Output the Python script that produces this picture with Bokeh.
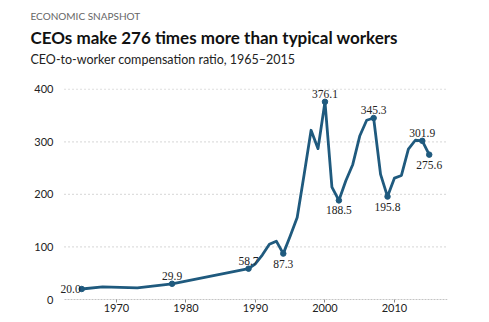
from bokeh.plotting import figure
from bokeh.models import Title, FixedTicker, Range1d, ColumnDataSource, LabelSet
from bokeh.embed import file_html
from bokeh.resources import INLINE

years = [1965, 1968, 1973, 1978, 1989, 1990, 1991, 1992, 1993, 1994, 1995, 1996, 1997,
         1998, 1999, 2000, 2001, 2002, 2003, 2004, 2005, 2006, 2007, 2008, 2009, 2010,
         2011, 2012, 2013, 2014, 2015]
ratio = [20.0, 24.0, 22.3, 29.9, 58.7, 68.0, 85.0, 105.0, 111.0, 87.3, 121.0, 156.0, 238.0,
         322.0, 287.0, 376.1, 214.0, 188.5, 226.0, 257.0, 311.0, 341.0, 345.3, 238.0, 195.8,
         231.0, 236.0, 286.0, 303.0, 301.9, 275.6]

# labelled points
lab_years_above = [1978, 1989, 2000, 2007, 2014]
lab_vals_above = [29.9, 58.7, 376.1, 345.3, 301.9]
lab_years_below = [1994, 2002, 2009, 2015]
lab_vals_below = [87.3, 188.5, 195.8, 275.6]
lab_years_left = [1965]
lab_vals_left = [20.0]

y_ticks = [0, 100, 200, 300, 400]
x_ticks = [1970, 1980, 1990, 2000, 2010]
grid_x_start, grid_x_end = 1962.52, 2017.63

kicker = "ECONOMIC SNAPSHOT"
title = "CEOs make 276 times more than typical workers"
subtitle = "CEO-to-worker compensation ratio, 1965\u20132015"

LINE = "#1f5a7e"
FONT = "Lato"

p = figure(width=489, height=322, output_backend="svg", toolbar_location=None,
           x_range=Range1d(1961.08, 2017.63), y_range=Range1d(0, 430),
           min_border_left=54, min_border_right=42, min_border_top=0, min_border_bottom=23)
p.outline_line_color = None
p.background_fill_color = "white"
p.border_fill_color = "white"

# header (added innermost first)
p.add_layout(Title(text=subtitle, text_font=FONT, text_font_size="12.5px", text_color="#222222",
                   text_font_style="normal", align="left", offset=-24, standoff=12.8), "above")
p.add_layout(Title(text=title, text_font=FONT, text_font_size="17px", text_color="#111111",
                   text_font_style="bold", align="left", offset=-24, standoff=-8.5), "above")
p.add_layout(Title(text=kicker, text_font=FONT, text_font_size="10px", text_color="#666666",
                   text_font_style="normal", align="left", offset=-24, standoff=14), "above")

p.xaxis.ticker = FixedTicker(ticks=x_ticks)
p.yaxis.ticker = FixedTicker(ticks=y_ticks)
p.xaxis.axis_line_color = None
p.xaxis.major_tick_line_color = "#8a8a8a"
p.xaxis.major_tick_out = 3
p.xaxis.major_tick_in = 0
p.xaxis.minor_tick_line_color = None
p.xaxis.major_label_standoff = 1
p.yaxis.axis_line_color = None
p.yaxis.major_tick_line_color = None
p.yaxis.major_tick_out = 0
p.yaxis.minor_tick_line_color = None
p.yaxis.major_label_standoff = 1
for ax in (p.xaxis, p.yaxis):
    ax.major_label_text_font = FONT
    ax.major_label_text_font_size = "11px"
    ax.major_label_text_color = "#222222"

p.xgrid.grid_line_color = None
p.ygrid.grid_line_color = None

# dotted gridlines and dashed baseline spanning the reference plot width
gy = y_ticks[1:]
p.segment(x0=[grid_x_start] * len(gy), x1=[grid_x_end] * len(gy), y0=gy, y1=gy,
          line_color="#bdbdbd", line_dash="1 3", line_width=1.2)
p.segment(x0=[grid_x_start], x1=[grid_x_end], y0=[0], y1=[0],
          line_color="#8a8a8a", line_dash="2 1", line_width=1)

p.line(years, ratio, line_color=LINE, line_width=2.8, line_join="round")

ax_y = lab_years_left + lab_years_above + lab_years_below
ax_v = lab_vals_left + lab_vals_above + lab_vals_below
p.scatter(ax_y, ax_v, size=5.5, color=LINE)

def labs(xs, vs, **kw):
    src = ColumnDataSource(dict(x=xs, y=vs, t=["%.1f" % v for v in vs]))
    ls = LabelSet(x="x", y="y", text="t", source=src, text_font=FONT,
                  text_font_size="11.5px", text_color="#222222", **kw)
    p.add_layout(ls)

labs(lab_years_above, lab_vals_above, text_align="center", text_baseline="bottom", y_offset=4)
labs(lab_years_below, lab_vals_below, text_align="center", text_baseline="top", y_offset=-6)
labs(lab_years_left, lab_vals_left, text_align="right", text_baseline="middle", x_offset=-1)

open("out.html", "w").write(file_html(p, INLINE))
